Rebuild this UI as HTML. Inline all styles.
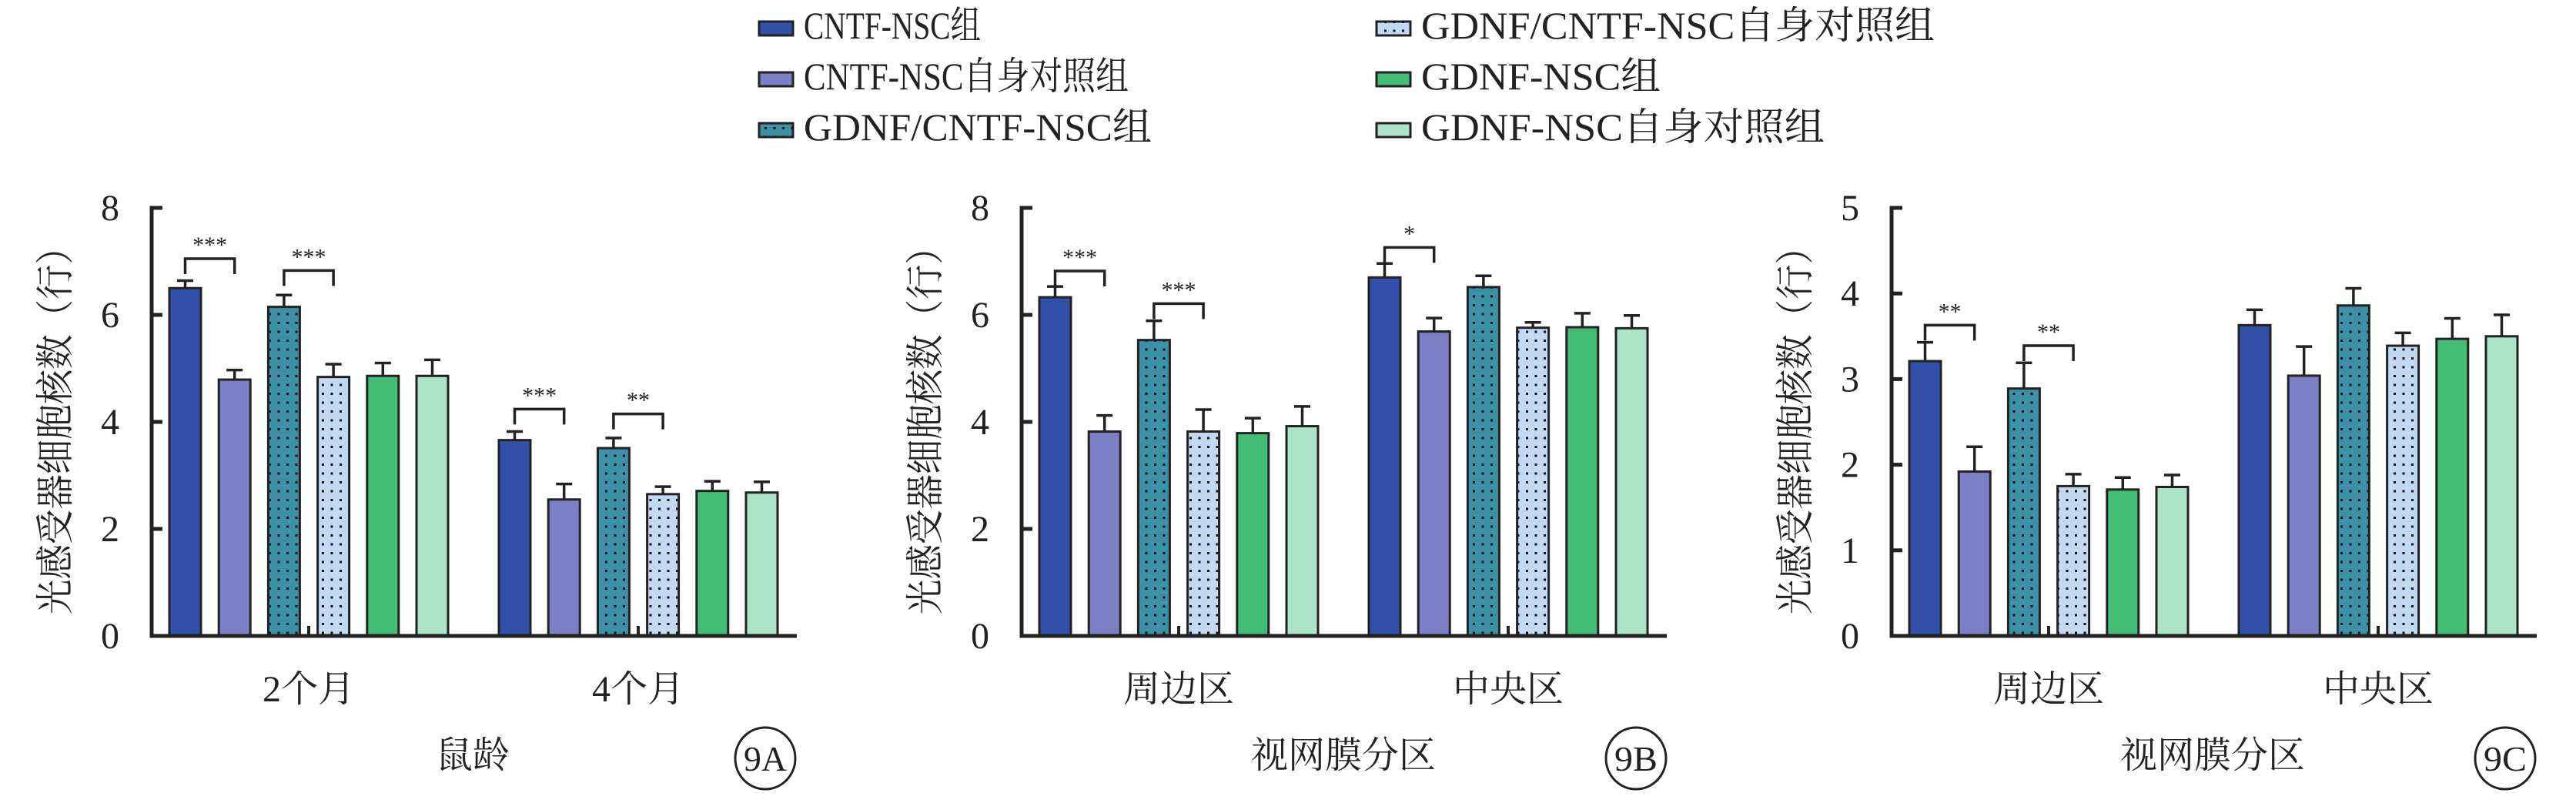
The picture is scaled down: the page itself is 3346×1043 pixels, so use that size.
<!DOCTYPE html>
<html><head><meta charset="utf-8"><style>
html,body{margin:0;padding:0;background:#fff;}
svg{display:block;font-family:"Liberation Serif","Noto Serif CJK SC",serif;}
</style></head><body>
<svg id="fig" xmlns="http://www.w3.org/2000/svg" width="3346" height="1043" viewBox="0 0 3346 1043">
<defs>
<pattern id="dotsA" width="11.5" height="11.5" patternUnits="userSpaceOnUse"><rect x="4" y="4" width="3" height="3" fill="#111"/></pattern>
</defs>
<g id="legend"></g>
<g id="charts"></g>
</svg>
<script>
const seriesNames = ["CNTF-NSC组","CNTF-NSC自身对照组","GDNF/CNTF-NSC组","GDNF/CNTF-NSC自身对照组","GDNF-NSC组","GDNF-NSC自身对照组"];
const seriesColors = ["#3350a8","#7b80c6","#3d91a6","#c3d8f2","#44bd74","#ade3c8"];
const seriesDotted = [false,false,true,true,false,false];

const catsA = ["2个月","4个月"];
const valsA = [[6.50,4.79,6.15,4.84,4.86,4.86],[3.66,2.55,3.51,2.65,2.71,2.68]];
const errA  = [[6.64,4.97,6.37,5.08,5.10,5.16],[3.82,2.84,3.70,2.79,2.89,2.88]];
const ticksA = [0,2,4,6,8];
const sigA = [[0,0,"***",7.05],[0,2,"***",6.83],[1,0,"***",4.24],[1,2,"**",4.15]];

const catsB = ["周边区","中央区"];
const valsB = [[6.33,3.82,5.53,3.82,3.79,3.92],[6.70,5.69,6.52,5.76,5.77,5.75]];
const errB  = [[6.53,4.12,5.89,4.23,4.07,4.29],[6.96,5.94,6.73,5.86,6.03,5.99]];
const ticksB = [0,2,4,6,8];
const sigB = [[0,0,"***",6.82],[0,2,"***",6.21],[1,0,"*",7.26]];

const catsC = ["周边区","中央区"];
const valsC = [[3.21,1.92,2.89,1.75,1.71,1.74],[3.63,3.04,3.86,3.39,3.47,3.50]];
const errC  = [[3.43,2.21,3.19,1.89,1.85,1.88],[3.81,3.38,4.06,3.54,3.71,3.75]];
const ticksC = [0,1,2,3,4,5];
const sigC = [[0,0,"**",3.63],[0,2,"**",3.39]];

const NS="http://www.w3.org/2000/svg";
function mk(tag, attrs, parent){const e=document.createElementNS(NS,tag);for(const k in attrs)e.setAttribute(k,attrs[k]);parent.appendChild(e);return e;}

// legend
const lg=document.getElementById('legend');
const legW=[230,422,452,667,311,524];
for(let i=0;i<6;i++){
  const col=Math.floor(i/3), row=i%3;
  const sx=col?1788:986, ty=50+row*66;
  const g=mk('g',{},lg);
  
  
  const r=mk('rect',{x:sx,y:ty-22,width:44,height:18,fill:seriesColors[i],stroke:'#222','stroke-width':3},g);
  
  
  if(seriesDotted[i]){const d=mk('rect',{x:sx,y:ty-22,width:44,height:18,fill:'url(#dotsA)'},g);}
  const t=mk('text',{x:sx+58,y:ty,'font-size':50,fill:'#222',textLength:legW[i],lengthAdjust:'spacingAndGlyphs'},g);
  t.textContent=seriesNames[i];
  
  
}

function drawChart(id, ax, cats, vals, errs, ticks, sigs, xTitle, xTitleX, circleX, circleLabel){
  const root=document.getElementById('charts');
  const g=mk('g',{},root);
  
  
  const y0=826, yTop=270, ymax=ticks[ticks.length-1];
  const ys=v=>y0-(v/ymax)*(y0-yTop);
  const barOff=23, step=64.2, bw=41, groupOff=451;
  const xs=(c,s)=>ax+barOff+c*(groupOff-barOff)+s*step;
  // bars
  for(let c=0;c<cats.length;c++){
    for(let s=0;s<6;s++){
      const x=xs(c,s), v=vals[c][s], e=errs[c][s];
      const cx=x+bw/2;
      const eb=mk('path',{d:`M${cx},${ys(v)} V${ys(e)} M${cx-10.5},${ys(e)} H${cx+10.5}`,stroke:'#222','stroke-width':3.5,fill:'none'},g);
      
      
      const b=mk('rect',{x:x,y:ys(v),width:bw,height:y0-ys(v),fill:seriesColors[s],stroke:'#222','stroke-width':3},g);
      
      
      if(seriesDotted[s]){const d=mk('rect',{x:x+1.5,y:ys(v)+1.5,width:bw-3,height:Math.max(0,y0-ys(v)-3),fill:'url(#dotsA)'},g);}
    }
    const mx=(xs(c,2)+bw+xs(c,3))/2;
    const tk=mk('line',{x1:mx,y1:y0,x2:mx,y2:y0-13,stroke:'#222','stroke-width':4},g);
    
    
    const cl=mk('text',{x:(xs(c,0)+xs(c,5)+bw)/2,y:911,'font-size':48,'text-anchor':'middle',fill:'#222'},g);
    cl.textContent=cats[c];
    
    
  }
  // significance
  for(const sg of sigs){
    const c=sg[0], s=sg[1];
    const x1=xs(c,s)+bw/2, x2=xs(c,s+1)+bw/2, yt=ys(sg[3]);
    const p=mk('path',{d:`M${x1},${yt+20} V${yt} H${x2} V${yt+20}`,stroke:'#222','stroke-width':3.5,fill:'none'},g);
    
    
    const t=mk('text',{x:(x1+x2)/2,y:yt-8,'font-size':30,'text-anchor':'middle',fill:'#222'},g);
    t.textContent=sg[2];
    
    
  }
  // axes
  const axes=mk('path',{d:`M${ax+14},${yTop} H${ax} V${y0} H${ax+838}`,stroke:'#222','stroke-width':5,fill:'none'},g);
  
  
  for(const t of ticks){
    const y=ys(t);
    const l=mk('line',{x1:ax,y1:y,x2:ax+14,y2:y,stroke:'#222','stroke-width':5},g);
    
    
    const tl=mk('text',{x:ax-54,y:y+16,'font-size':48,'text-anchor':'middle',fill:'#222'},g);
    tl.textContent=t;
    
    
  }
  const yt=mk('text',{x:0,y:0,'font-size':50,'text-anchor':'middle',fill:'#222',transform:`translate(${ax-108},548) rotate(-90)`,textLength:500,lengthAdjust:'spacingAndGlyphs'},g);
  yt.textContent='光感受器细胞核数（行）';
  
  
  const xt=mk('text',{x:xTitleX,y:997,'font-size':48,'text-anchor':'middle',fill:'#222'},g);
  xt.textContent=xTitle;
  
  
  const cg=mk('g',{},g);
  
  
  mk('ellipse',{cx:circleX,cy:985,rx:39,ry:40,fill:'none',stroke:'#222','stroke-width':3},cg);
  const ct=mk('text',{x:circleX,y:1001,'font-size':46,'text-anchor':'middle',fill:'#222',textLength:56,lengthAdjust:'spacingAndGlyphs'},cg);
  ct.textContent=circleLabel;
}
drawChart('a',197,catsA,valsA,errA,ticksA,sigA,'鼠龄',614,994,'9A');
drawChart('b',1327,catsB,valsB,errB,ticksB,sigB,'视网膜分区',1745,2125,'9B');
drawChart('c',2457,catsC,valsC,errC,ticksC,sigC,'视网膜分区',2874,3254,'9C');
</script>
</body></html>
